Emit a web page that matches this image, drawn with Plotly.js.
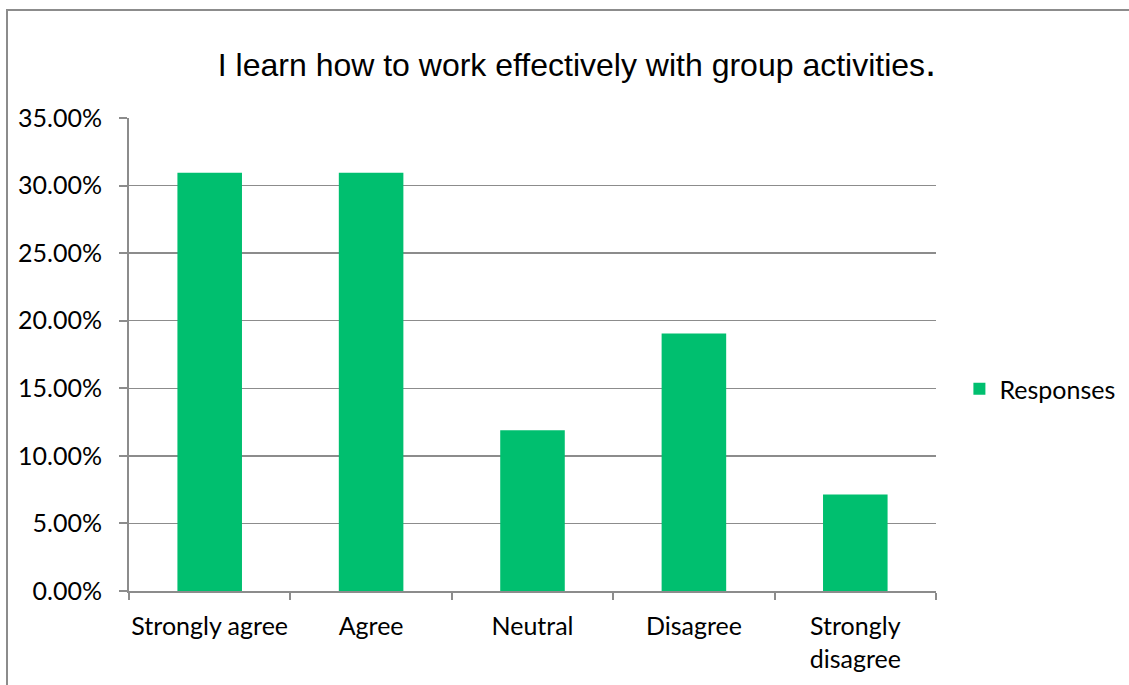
<!DOCTYPE html>
<html>
<head>
<meta charset="utf-8">
<script src="https://cdn.plot.ly/plotly-3.0.1.min.js"></script>
<style>
  html, body { margin: 0; padding: 0; background: #fff; }
  #wrap { position: relative; width: 1129px; height: 685px; overflow: hidden; }
  #chart { width: 1150px; height: 685px; }
  #frame { position: absolute; left: 6px; top: 9px; width: 1200px; height: 800px;
           border: 2px solid #8c8c8c; pointer-events: none; box-sizing: border-box; }
</style>
</head>
<body>
<div id="wrap">
  <div id="chart"></div>
  <div id="frame"></div>
</div>
<script>
const categories = ["Strongly agree", "Agree", "Neutral", "Disagree", "Strongly<br>disagree"];
const responses = [0.3095, 0.3095, 0.1190, 0.1905, 0.0714];
const seriesName = "Responses";
const chartTitle = "I learn how to work effectively with group activities<span style=\"font-size:40px\">.</span>";

function labelFont() {
  return { family: "Lato, 'Open Sans', sans-serif", size: 25, color: "#000" };
}

const trace = {
  type: "bar",
  x: categories,
  y: responses,
  name: seriesName,
  marker: { color: "#00BF6F" },
  showlegend: true
};

const layout = {
  width: 1150, height: 685,
  margin: { l: 129, r: 214, t: 118, b: 94 },
  paper_bgcolor: "#fff", plot_bgcolor: "#fff",
  bargap: 0.6,
  title: {
    text: chartTitle,
    font: { family: "'Liberation Sans', Arial, sans-serif", size: 32, color: "#000" },
    xref: "container", x: 577/1150, xanchor: "center",
    yref: "container", y: 1 - 65/685, yanchor: "middle"
  },
  xaxis: {
    type: "category",
    showline: true, linecolor: "#8c8c8c", linewidth: 2,
    ticks: "outside", tickson: "boundaries", ticklen: 7, tickcolor: "#8c8c8c", tickwidth: 2,
    tickfont: labelFont(),
    tickangle: 0,
    ticklabelstandoff: 12,
    showgrid: false, zeroline: false
  },
  yaxis: {
    range: [0, 0.35], dtick: 0.05, tickformat: ".2%",
    showline: true, linecolor: "#8c8c8c", linewidth: 2,
    ticks: "outside", ticklen: 8, tickcolor: "#8c8c8c", tickwidth: 2,
    showgrid: true, gridcolor: "#8c8c8c", gridwidth: 1.5,
    zeroline: false,
    tickfont: labelFont(),
    ticklabelstandoff: 12
  },
  legend: {
    x: 1.029, xanchor: "left", y: 0.427, yanchor: "middle",
    font: labelFont(), itemwidth: 30, bgcolor: "rgba(0,0,0,0)"
  },
  showlegend: true
};

Plotly.newPlot("chart", [trace], layout, { staticPlot: true, displayModeBar: false });
</script>
</body>
</html>
